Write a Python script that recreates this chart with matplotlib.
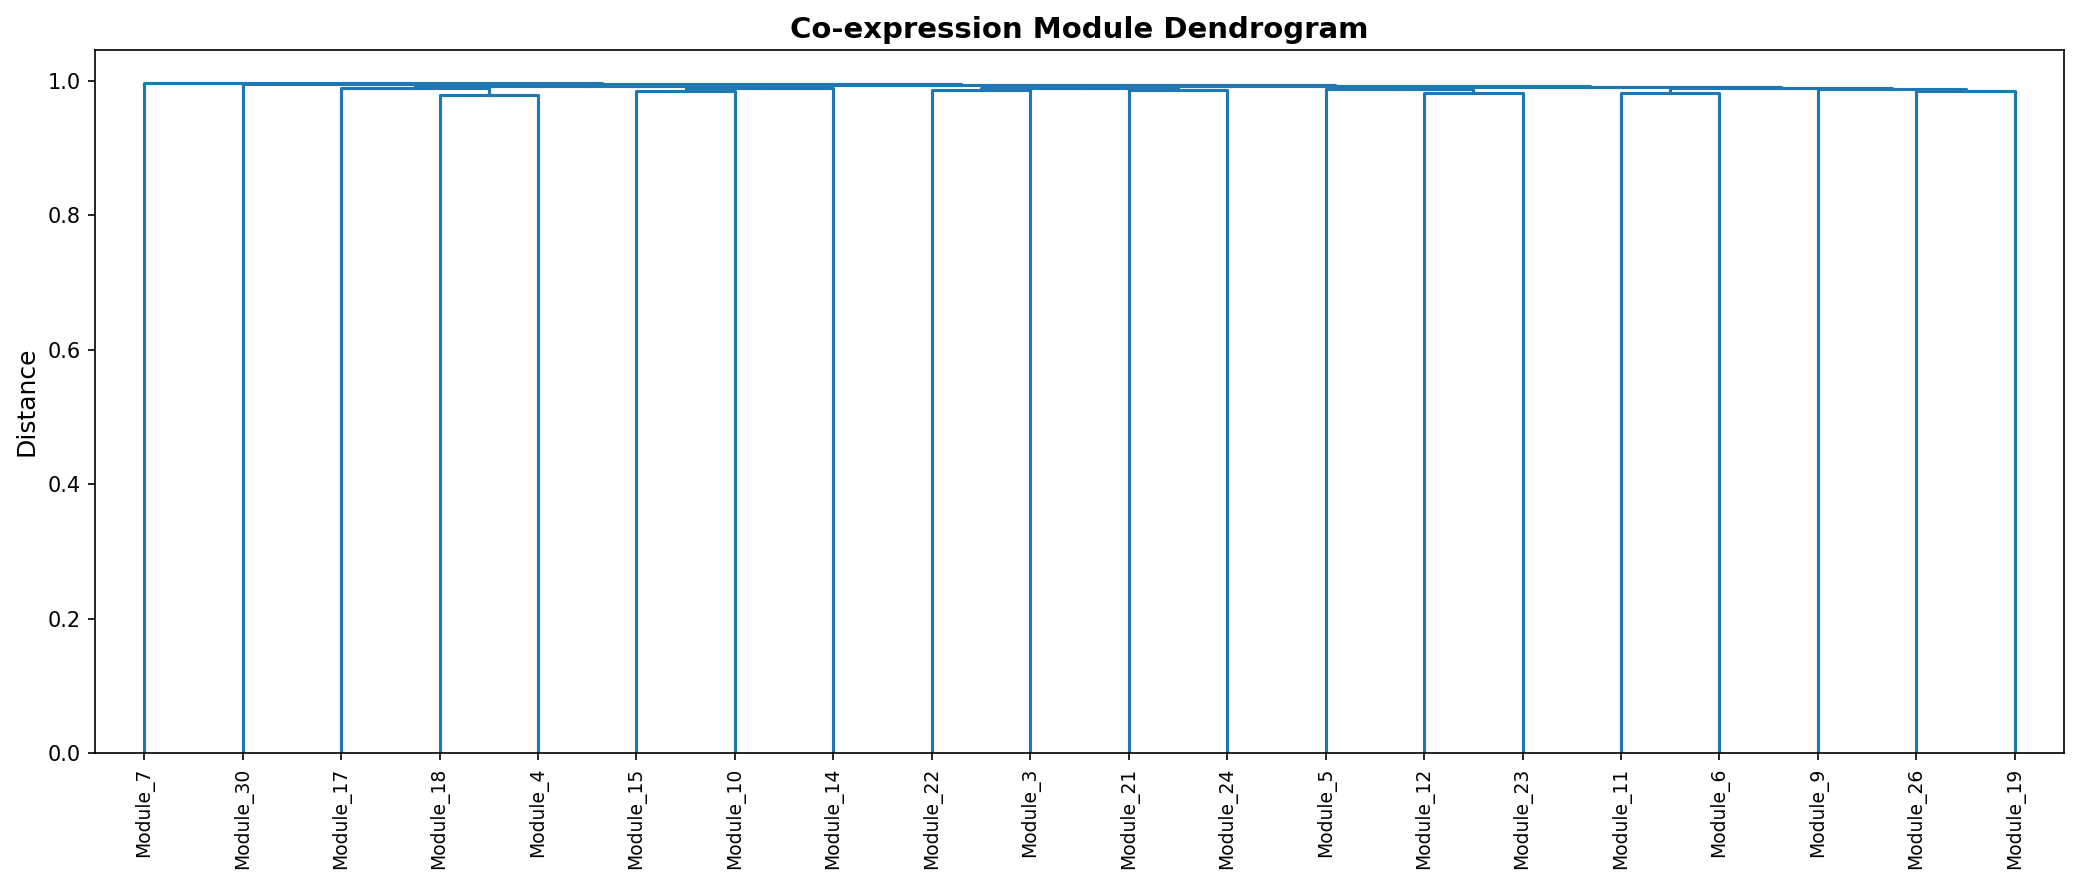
import matplotlib
matplotlib.use("Agg")
import matplotlib.pyplot as plt

# Leaf labels in dendrogram order
leaf_labels = ['Module_7', 'Module_30', 'Module_17', 'Module_18', 'Module_4',
               'Module_15', 'Module_10', 'Module_14', 'Module_22', 'Module_3',
               'Module_21', 'Module_24', 'Module_5', 'Module_12', 'Module_23',
               'Module_11', 'Module_6', 'Module_9', 'Module_26', 'Module_19']

# Linkage: node ids 0..19 are leaves (display order), 20+ are merges in order
merge_left = [3, 13, 15, 5, 18, 8, 10, 17, 12, 2, 23, 25, 22, 28, 29, 31, 34, 1, 0]
merge_right = [4, 14, 16, 6, 19, 9, 11, 24, 21, 20, 7, 26, 27, 32, 30, 33, 35, 36, 37]
merge_height = [0.9785, 0.9820, 0.9820, 0.9845, 0.9850, 0.9855, 0.9865, 0.9870,
                0.9875, 0.9885, 0.9888, 0.9890, 0.9895, 0.9905, 0.9915, 0.9920,
                0.9930, 0.9943, 0.9958]

W, H, DPI = 2082, 884, 150
fig = plt.figure(figsize=(W / DPI, H / DPI), dpi=DPI)
ax = fig.add_axes([95 / W, 1 - 753 / H, (2064 - 95) / W, (753 - 50) / H])

n = len(leaf_labels)
pos = {i: 5 + 10 * i for i in range(n)}
hgt = {i: 0.0 for i in range(n)}
color = '#1f77b4'
for k, (a, b, h) in enumerate(zip(merge_left, merge_right, merge_height)):
    node = n + k
    xa, xb = pos[a], pos[b]
    ax.plot([xa, xa, xb, xb], [hgt[a], h, h, hgt[b]], color=color, lw=1.5)
    pos[node] = (xa + xb) / 2
    hgt[node] = h

ax.set_xlim(0, 10 * n)
ax.set_ylim(0, max(merge_height) * 1.05)
ax.set_xticks([5 + 10 * i for i in range(n)])
ax.set_xticklabels(leaf_labels, rotation=90, fontsize=9)
ax.set_yticks([0.0, 0.2, 0.4, 0.6, 0.8, 1.0])
ax.tick_params(axis='y', labelsize=10)
ax.set_ylabel('Distance', fontsize=12)
ax.set_title('Co-expression Module Dendrogram', fontsize=14, fontweight='bold')

fig.savefig('out.png', dpi=DPI)
